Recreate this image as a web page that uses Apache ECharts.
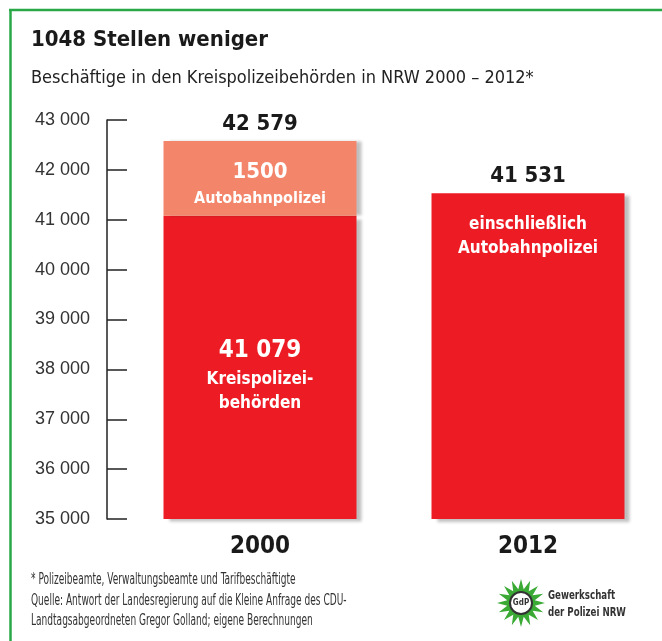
<!DOCTYPE html>
<html><head><meta charset="utf-8">
<script src="https://cdn.jsdelivr.net/npm/echarts@6/dist/echarts.min.js"></script>
<style>html,body{margin:0;padding:0;background:#fff}#c{width:662px;height:641px}</style>
</head><body><div id="c"></div>
<script>
const categories = ['2000', '2012'];
const kreisValues = [41079, 41531];
const autobahnValues = [1500, null];
const totals = [42579, 41531];
const yTicks = [35000, 36000, 37000, 38000, 39000, 40000, 41000, 42000, 43000];

const NARROW = '"Liberation Sans Narrow","DejaVu Sans Condensed",sans-serif';
const fmt = v => String(v).replace(/\B(?=(\d{3})+(?!\d))/g, ' ');
const RED = '#ED1C24', SALMON = '#F3856A';

function starPoints(cx, cy, n, r1, r2) {
  const pts = [];
  for (let i = 0; i < n * 2; i++) {
    const r = i % 2 === 0 ? r1 : r2;
    const a = Math.PI * i / n - Math.PI / 2;
    pts.push([cx + r * Math.cos(a), cy + r * Math.sin(a)]);
  }
  return pts;
}

function note(text, y) {
  return {type: 'text', x: 31, y: y, scaleX: 0.67,
    style: {text: text, font: '15px ' + NARROW, fill: '#333', verticalAlign: 'middle'}};
}

const chart = echarts.init(document.getElementById('c'), null, {renderer: 'canvas'});
chart.setOption({
  backgroundColor: '#ffffff',
  animation: false,
  title: [
    {text: '1048 Stellen weniger', left: 26, top: 24,
     textStyle: {fontFamily: NARROW, fontWeight: 'bold', fontSize: 22, color: '#1a1a1a'}},
    {text: 'Beschäftige in den Kreispolizeibehörden in NRW 2000 – 2012*', left: 26, top: 64,
     textStyle: {fontFamily: NARROW, fontWeight: 'normal', fontSize: 18, color: '#222'}}
  ],
  grid: {left: 126, top: 120, width: 538, height: 399, containLabel: false},
  xAxis: {
    type: 'category', data: categories,
    axisLine: {show: false}, axisTick: {show: false},
    axisLabel: {margin: 16, fontFamily: NARROW, fontWeight: 'bold', fontSize: 24, color: '#1a1a1a'}
  },
  yAxis: {
    type: 'value', min: yTicks[0], max: yTicks[yTicks.length - 1], interval: 1000,
    offset: 19, splitLine: {show: false},
    axisLine: {show: true, lineStyle: {color: '#222', width: 1.5}},
    axisTick: {show: true, inside: true, length: 20, lineStyle: {color: '#222', width: 1.5}},
    axisLabel: {margin: 17, fontFamily: '"Liberation Sans",Arial,sans-serif', fontSize: 18, color: '#333',
      formatter: fmt}
  },
  series: [
    {
      name: 'Kreispolizeibehörden', type: 'bar', stack: 's', barWidth: 193,
      itemStyle: {color: RED, shadowColor: 'rgba(0,0,0,0.25)', shadowOffsetX: 5, shadowOffsetY: 3, shadowBlur: 3},
      data: [
        {value: kreisValues[0], label: {show: true, position: 'inside', offset: [0, 7],
          formatter: () => '{n|' + fmt(kreisValues[0]) + '}\n{t|Kreispolizei-}\n{t|behörden}',
          rich: {n: {fontFamily: NARROW, fontWeight: 'bold', fontSize: 24, color: '#fff', lineHeight: 34},
                 t: {fontFamily: NARROW, fontWeight: 'bold', fontSize: 17, color: '#fff', lineHeight: 24}}}},
        {value: kreisValues[1], label: {show: true, position: 'insideTop', distance: 19,
          formatter: () => '{t|einschließlich}\n{t|Autobahnpolizei}',
          rich: {t: {fontFamily: NARROW, fontWeight: 'bold', fontSize: 17, color: '#fff', lineHeight: 24}}}}
      ]
    },
    {
      name: 'Autobahnpolizei', type: 'bar', stack: 's', barWidth: 193,
      itemStyle: {color: SALMON, shadowColor: 'rgba(0,0,0,0.25)', shadowOffsetX: 5, shadowOffsetY: 0, shadowBlur: 3},
      data: [
        {value: autobahnValues[0], label: {show: true, position: 'inside', offset: [0, 6],
          formatter: () => '{n|' + autobahnValues[0] + '}\n{t|Autobahnpolizei}',
          rich: {n: {fontFamily: NARROW, fontWeight: 'bold', fontSize: 22, color: '#fff', lineHeight: 28},
                 t: {fontFamily: NARROW, fontWeight: 'bold', fontSize: 16, color: '#fff', lineHeight: 24}}}},
        autobahnValues[1]
      ]
    },
    {
      name: 'Gesamt', type: 'bar', stack: 's', barWidth: 193,
      data: [0, 0], itemStyle: {color: 'transparent'},
      label: {show: true, position: 'top', distance: 6,
        formatter: p => fmt(totals[p.dataIndex]),
        fontFamily: NARROW, fontWeight: 'bold', fontSize: 22, color: '#1a1a1a'}
    }
  ],
  graphic: [
    {type: 'line', shape: {x1: 9, y1: 10, x2: 662, y2: 10}, style: {stroke: '#2AA847', lineWidth: 2.5}},
    {type: 'line', shape: {x1: 10.5, y1: 9, x2: 10.5, y2: 641}, style: {stroke: '#2AA847', lineWidth: 2.5}},
    note('* Polizeibeamte, Verwaltungsbeamte und Tarifbeschäftigte', 580),
    note('Quelle: Antwort der Landesregierung auf die Kleine Anfrage des CDU-', 601),
    note('Landtagsabgeordneten Gregor Golland; eigene Berechnungen', 621),
    {type: 'polygon', shape: {points: starPoints(521, 603, 16, 24, 14)}, style: {fill: '#3AAA35'}},
    {type: 'circle', shape: {cx: 521, cy: 603, r: 11}, style: {fill: '#fff', stroke: '#333', lineWidth: 2}},
    {type: 'text', x: 521, y: 603, style: {text: 'GdP', font: 'bold 8px ' + NARROW, fill: '#333', align: 'center', verticalAlign: 'middle'}},
    {type: 'text', x: 548, y: 596, scaleX: 0.74, style: {text: 'Gewerkschaft', font: 'bold 13px ' + NARROW, fill: '#333', verticalAlign: 'middle'}},
    {type: 'text', x: 548, y: 613, scaleX: 0.74, style: {text: 'der Polizei NRW', font: 'bold 13px ' + NARROW, fill: '#333', verticalAlign: 'middle'}}
  ]
});
</script></body></html>
